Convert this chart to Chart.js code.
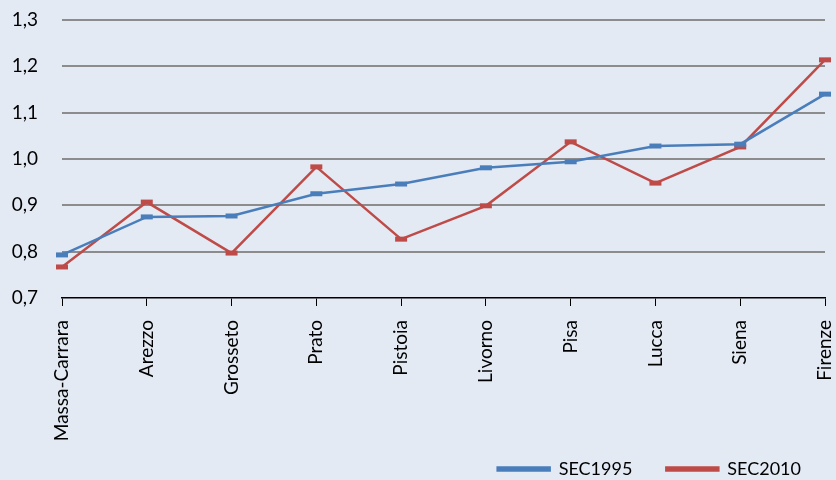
<!DOCTYPE html>
<html>
<head>
<meta charset="utf-8">
<script src="https://cdn.jsdelivr.net/npm/chart.js@4"></script>
<style>
  html, body { margin: 0; padding: 0; background: #E4EAF4; }
  #wrap { width: 836px; height: 480px; }
</style>
</head>
<body>
<div id="wrap"><canvas id="chart" width="836" height="480"></canvas></div>
<script>
// province labels (x axis)
const provinces = ['Massa-Carrara', 'Arezzo', 'Grosseto', 'Prato', 'Pistoia', 'Livorno', 'Pisa', 'Lucca', 'Siena', 'Firenze'];
// series values
const sec1995 = [0.793, 0.875, 0.877, 0.925, 0.946, 0.981, 0.994, 1.028, 1.032, 1.140];
const sec2010 = [0.767, 0.907, 0.797, 0.983, 0.827, 0.899, 1.037, 0.948, 1.026, 1.214];
const yTicks = [0.7, 0.8, 0.9, 1.0, 1.1, 1.2, 1.3];

const blue = '#4A7EBB';
const red = '#BE4B48';
const font = "Lato, 'Open Sans', sans-serif";

function series(label, data, color) {
  return {
    label: label,
    data: data,
    borderColor: color,
    backgroundColor: color,
    borderWidth: 2.5,
    pointStyle: 'line',
    pointRadius: 6,
    pointBorderWidth: 5,
    pointBorderColor: color,
    tension: 0
  };
}

// legend items need a wide gap (padding) but only a short box in the layout,
// so stretch the legend box upward after layout so its text isn't clipped
const legendNudge = {
  id: 'legendNudge',
  afterLayout(chart) {
    chart.legend.top -= 24;
    chart.legend.left += 7;
    chart.legend.right += 7;
  }
};

new Chart(document.getElementById('chart'), {
  type: 'line',
  data: {
    labels: provinces,
    datasets: [series('SEC1995', sec1995, blue), series('SEC2010', sec2010, red)]
  },
  plugins: [legendNudge],
  options: {
    responsive: false,
    animation: false,
    layout: { padding: { top: 20, right: 8, left: 0, bottom: 0 } },
    plugins: {
      tooltip: { enabled: false },
      legend: {
        position: 'bottom',
        align: 'end',
        maxHeight: 30,
        labels: {
          color: '#000',
          font: { family: font, size: 18 },
          boxWidth: 52,
          boxHeight: 3,
          padding: 34
        }
      }
    },
    scales: {
      x: {
        offset: false,
        afterFit: s => { s.height = 152; s.paddingLeft = 0; s.paddingRight = 0; },
        grid: {
          drawOnChartArea: false,
          drawTicks: true,
          tickLength: 8,
          color: '#000',
          lineWidth: 1
        },
        border: { display: true, color: '#000', width: 1.5 },
        ticks: {
          color: '#000',
          font: { family: font, size: 19 },
          maxRotation: 90,
          minRotation: 90,
          autoSkip: false,
          padding: 14
        }
      },
      y: {
        min: 0.7,
        max: 1.3,
        afterFit: s => { s.width = 62; s.paddingTop = 0; s.paddingBottom = 0; },
        afterBuildTicks: s => { s.ticks = yTicks.map(v => ({ value: v })); },
        grid: {
          color: ctx => ctx.tick && ctx.tick.value === 0.7 ? 'rgba(0,0,0,0)' : '#8C8C8C',
          lineWidth: 2,
          drawTicks: false
        },
        border: { display: false },
        ticks: {
          color: '#000',
          font: { family: font, size: 19 },
          padding: 24,
          callback: v => v.toFixed(1).replace('.', ',')
        }
      }
    }
  }
});
</script>
</body>
</html>
